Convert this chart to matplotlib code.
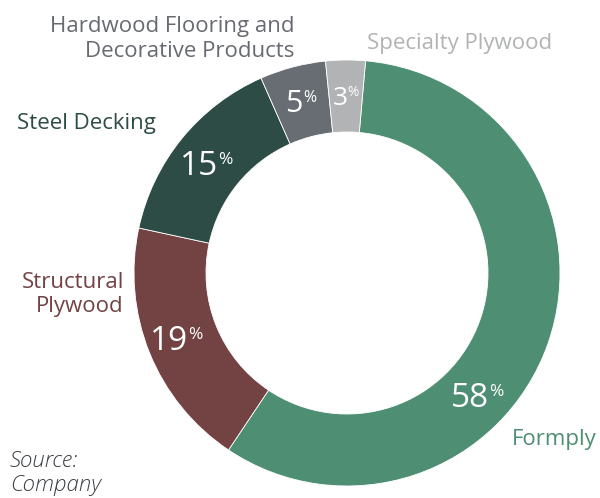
import matplotlib
matplotlib.use("Agg")

import matplotlib.pyplot as plt

# segment share, clockwise from the top
segments = ["Formply", "Structural Plywood", "Steel Decking",
            "Hardwood Flooring and Decorative Products", "Specialty Plywood"]
shares = [58, 19, 15, 5, 3]
colors = ["#4e8f74", "#734243", "#2d4c45", "#686d74", "#b2b3b5"]

plt.rcParams["font.family"] = ["Open Sans", "DejaVu Sans"]

W, H = 600, 498
fig = plt.figure(figsize=(W / 100, H / 100), dpi=100)
ax = fig.add_axes([0, 0, 1, 1])

cx, cy, r_out = 347, H - 273, 213
ring = 0.338
ax.pie(
    shares,
    colors=colors,
    startangle=85,
    counterclock=False,
    radius=r_out,
    center=(cx, cy),
    frame=True,
    wedgeprops=dict(width=r_out * ring, edgecolor="white", linewidth=0.6),
)
# one data unit == one pixel, y measured from the bottom
ax.set_xlim(0, W)
ax.set_ylim(0, H)
ax.set_aspect("equal")
ax.axis("off")

CAP = 0.714  # cap/digit height of Open Sans, in em
PT2PX = 100 / 72

# percentage labels: number centred at x, baseline at y, small raised "%"
pct_pos = [(470, 407), (169, 350), (199, 175), (294, 112), (340, 105)]
pct_size = [24, 24, 24, 22, 19]
for val, (x, y), fs in zip(shares, pct_pos, pct_size):
    yb = H - y
    t = ax.text(x, yb, f"{val}", color="white", fontsize=fs,
                ha="center", va="baseline")
    small = fs * 0.52
    lift = CAP * (fs - small) * PT2PX
    ax.annotate("%", xy=(1, yb + lift), xycoords=(t, "data"),
                xytext=(0.2, 0), textcoords="offset points", color="white",
                fontsize=small, ha="left", va="baseline")

# category labels, one line at a time: (text, x, baseline y, align, colour)
lab_fs = 16
label_lines = [
    ("Formply", 512, 445, "left", "#4e8f74"),
    ("Structural", 124, 288, "right", "#734243"),
    ("Plywood", 124, 312, "right", "#734243"),
    ("Steel Decking", 17, 129, "left", "#2d4c45"),
    ("Hardwood Flooring and", 294, 32, "right", "#676b71"),
    ("Decorative Products", 294, 57, "right", "#676b71"),
    ("Specialty Plywood", 367, 49, "left", "#b2b3b5"),
]
for txt, x, y, ha, col in label_lines:
    ax.text(x, H - y, txt, color=col, fontsize=lab_fs, ha=ha, va="baseline")

for txt, y in [("Source:", 467), ("Company", 491)]:
    ax.text(10, H - y, txt, color="#3a3f44", fontsize=lab_fs,
            style="italic", fontweight="light", ha="left", va="baseline")

fig.savefig("out.png", dpi=100)
